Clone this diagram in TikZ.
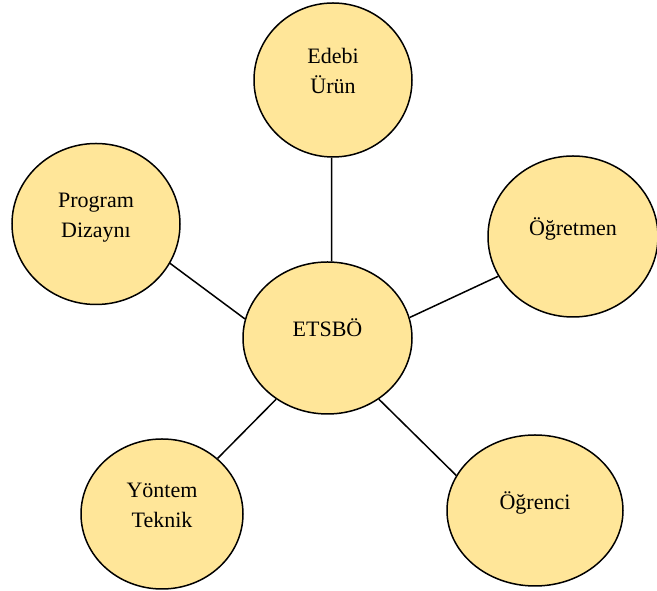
\documentclass[tikz,border=0pt]{standalone}
\usepackage{fontspec}
\setmainfont{Liberation Serif}
\usepackage{tikz}
\usetikzlibrary{shapes.geometric}
\pgfdeclarelayer{bg}
\pgfsetlayers{bg,main}
\definecolor{bubble}{RGB}{255,230,153}
\newcommand{\bubbletext}[1]{\raisebox{2pt}[0pt][0pt]{\begin{tabular}{@{}c@{}}#1\end{tabular}}}
\tikzset{every picture/.append style={line width=1.5pt}}
\tikzset{every edge/.append style={line width=1.5pt}}
\tikzset{
    every node/.style={ellipse, fill=bubble, draw=black, inner sep=0pt,
    	font=\fontsize{22}{30}\selectfont}
}

\begin{document}
\begin{tikzpicture}
  \useasboundingbox (0pt,0pt) rectangle (657pt,591pt);
  \node (edebi) [minimum width=158pt, minimum height=154pt] at (333pt, 511pt) {\bubbletext{Edebi\\Ürün}};
  \node (program) [minimum width=168pt, minimum height=161pt] at (96pt, 367pt) {\bubbletext{Program\\Dizaynı}};
  \node (ogretmen) [minimum width=170pt, minimum height=161pt] at (573pt, 354.5pt) {\bubbletext{Öğretmen}};
  \node (etsbo) [minimum width=169pt, minimum height=152pt] at (327.5pt, 253pt) {\bubbletext{ETSBÖ}};
  \node (yontem) [minimum width=162pt, minimum height=150pt] at (162pt, 77pt) {\bubbletext{Yöntem\\Teknik}};
  \node (ogrenci) [minimum width=176pt, minimum height=151pt] at (535pt, 80.5pt) {\bubbletext{Öğrenci}};

  \begin{pgfonlayer}{bg}
	  \draw (edebi.-91) edge (etsbo.87); \draw (program.-28) edge (etsbo.167);
	  \draw (ogretmen.-152) edge (etsbo.14); \draw (yontem.45) edge (etsbo.-130);
	  \draw (ogrenci.156) edge (etsbo.-50);
  \end{pgfonlayer}

\end{tikzpicture}
\end{document}
